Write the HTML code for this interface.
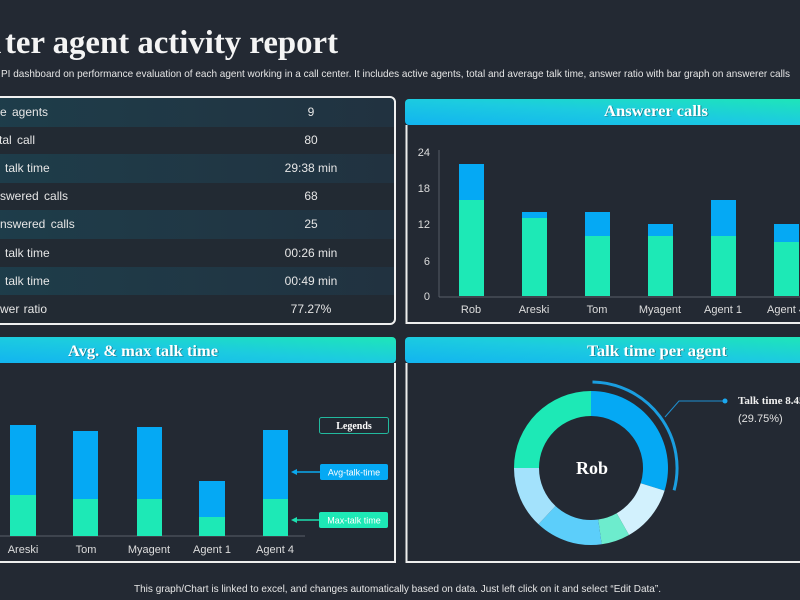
<!DOCTYPE html>
<html>
<head>
<meta charset="utf-8">
<style>
html,body{margin:0;padding:0;background:#232933;width:800px;height:600px;overflow:hidden;}
svg{display:block;}
text{font-family:"Liberation Sans",Arial,sans-serif;}
.serif{font-family:"Liberation Serif",serif;font-weight:bold;}
</style>
</head>
<body>
<svg width="800" height="600" viewBox="0 0 800 600" xmlns="http://www.w3.org/2000/svg">
<defs>
  <linearGradient id="hg" x1="0" y1="1" x2="1" y2="0">
    <stop offset="0" stop-color="#12b4f0"/>
    <stop offset="0.5" stop-color="#1ccbe0"/>
    <stop offset="1" stop-color="#1ee6b8"/>
  </linearGradient>
  <linearGradient id="rowg" x1="0" y1="0" x2="1" y2="0">
    <stop offset="0" stop-color="#1e3d4a"/>
    <stop offset="1" stop-color="#213240"/>
  </linearGradient>
</defs>

<rect x="0" y="0" width="800" height="600" fill="#232933"/>

<!-- Title -->
<text class="serif" x="-17" y="53" font-size="33" fill="#f4f4f4">n</text>
<text class="serif" x="5" y="53" font-size="33" fill="#f4f4f4" textLength="333" lengthAdjust="spacingAndGlyphs">ter agent activity report</text>
<text x="1" y="77" font-size="10.5" fill="#e6e6e6" textLength="789" lengthAdjust="spacingAndGlyphs">PI dashboard on performance evaluation of each agent working in a call center. It includes active agents, total and average talk time, answer ratio with bar graph on answerer calls</text>

<!-- KPI table -->
<rect x="-10" y="97" width="405" height="227" rx="5" fill="#222a33"/>
<rect x="-10" y="98" width="404" height="29" fill="url(#rowg)"/>
<rect x="-10" y="154" width="404" height="29" fill="url(#rowg)"/>
<rect x="-10" y="210" width="404" height="29" fill="url(#rowg)"/>
<rect x="-10" y="267" width="404" height="28" fill="url(#rowg)"/>
<rect x="-10" y="97" width="405" height="227" rx="5" fill="none" stroke="#f0f0f0" stroke-width="2"/>

<g font-size="12" fill="#e6e6e6">
  <text x="0" y="116" word-spacing="2">e agents</text>
  <text x="-1" y="144" word-spacing="2">tal call</text>
  <text x="5" y="172">talk time</text>
  <text x="0" y="200" word-spacing="2">swered calls</text>
  <text x="0" y="228" word-spacing="2">nswered calls</text>
  <text x="5" y="257">talk time</text>
  <text x="5" y="285">talk time</text>
  <text x="0" y="313" word-spacing="1">wer ratio</text>
</g>
<g font-size="12" fill="#e6e6e6" text-anchor="middle">
  <text x="311" y="116">9</text>
  <text x="311" y="144">80</text>
  <text x="311" y="172">29:38 min</text>
  <text x="311" y="200">68</text>
  <text x="311" y="228">25</text>
  <text x="311" y="257">00:26 min</text>
  <text x="311" y="285">00:49 min</text>
  <text x="311" y="313">77.27%</text>
</g>

<!-- Answerer calls panel -->
<rect x="405" y="99" width="405" height="26" rx="4" fill="url(#hg)"/>
<path d="M406.5 125 V323 H810" fill="none" stroke="#eeeeee" stroke-width="2"/>
<text class="serif" x="657" y="116.5" font-size="16" fill="#1a3a44" text-anchor="middle" opacity="0.5" textLength="104" lengthAdjust="spacingAndGlyphs">Answerer calls</text>
<text class="serif" x="656" y="116" font-size="16" fill="#ffffff" text-anchor="middle" textLength="104" lengthAdjust="spacingAndGlyphs">Answerer calls</text>

<line x1="439" y1="150" x2="439" y2="297" stroke="#555c66" stroke-width="1"/>
<line x1="439" y1="297" x2="800" y2="297" stroke="#5a606a" stroke-width="1"/>
<g font-size="11" fill="#dddddd" text-anchor="end">
  <text x="430" y="156">24</text>
  <text x="430" y="192">18</text>
  <text x="430" y="228">12</text>
  <text x="430" y="265">6</text>
  <text x="430" y="300">0</text>
</g>
<g>
  <rect x="459" y="164" width="25" height="36" fill="#05a9f4"/>
  <rect x="459" y="200" width="25" height="96" fill="#1de9b6"/>
  <rect x="522" y="212" width="25" height="6" fill="#05a9f4"/>
  <rect x="522" y="218" width="25" height="78" fill="#1de9b6"/>
  <rect x="585" y="212" width="25" height="24" fill="#05a9f4"/>
  <rect x="585" y="236" width="25" height="60" fill="#1de9b6"/>
  <rect x="648" y="224" width="25" height="12" fill="#05a9f4"/>
  <rect x="648" y="236" width="25" height="60" fill="#1de9b6"/>
  <rect x="711" y="200" width="25" height="36" fill="#05a9f4"/>
  <rect x="711" y="236" width="25" height="60" fill="#1de9b6"/>
  <rect x="774" y="224" width="25" height="18" fill="#05a9f4"/>
  <rect x="774" y="242" width="25" height="54" fill="#1de9b6"/>
</g>
<g font-size="11" fill="#dddddd" text-anchor="middle">
  <text x="471" y="313">Rob</text>
  <text x="534" y="313">Areski</text>
  <text x="597" y="313">Tom</text>
  <text x="660" y="313">Myagent</text>
  <text x="723" y="313">Agent 1</text>
  <text x="786" y="313">Agent 4</text>
</g>

<!-- Avg & max talk time panel -->
<rect x="-10" y="337" width="406" height="26" rx="4" fill="url(#hg)"/>
<path d="M-5 562 H395 V363" fill="none" stroke="#eeeeee" stroke-width="2"/>
<text class="serif" x="144" y="356.5" font-size="16" fill="#1a3a44" text-anchor="middle" opacity="0.5" textLength="150" lengthAdjust="spacingAndGlyphs">Avg. &amp; max talk time</text>
<text class="serif" x="143" y="356" font-size="16" fill="#ffffff" text-anchor="middle" textLength="150" lengthAdjust="spacingAndGlyphs">Avg. &amp; max talk time</text>

<line x1="0" y1="536" x2="305" y2="536" stroke="#5a606a" stroke-width="1"/>
<g>
  <rect x="10" y="425" width="26" height="70" fill="#05a9f4"/>
  <rect x="10" y="495" width="26" height="41" fill="#1de9b6"/>
  <rect x="73" y="431" width="25" height="68" fill="#05a9f4"/>
  <rect x="73" y="499" width="25" height="37" fill="#1de9b6"/>
  <rect x="137" y="427" width="25" height="72" fill="#05a9f4"/>
  <rect x="137" y="499" width="25" height="37" fill="#1de9b6"/>
  <rect x="199" y="481" width="26" height="36" fill="#05a9f4"/>
  <rect x="199" y="517" width="26" height="19" fill="#1de9b6"/>
  <rect x="263" y="430" width="25" height="69" fill="#05a9f4"/>
  <rect x="263" y="499" width="25" height="37" fill="#1de9b6"/>
</g>
<g font-size="11" fill="#dddddd" text-anchor="middle">
  <text x="23" y="553">Areski</text>
  <text x="86" y="553">Tom</text>
  <text x="149" y="553">Myagent</text>
  <text x="212" y="553">Agent 1</text>
  <text x="275" y="553">Agent 4</text>
</g>

<!-- Legend -->
<rect x="319.5" y="417.5" width="69" height="16" rx="2" fill="none" stroke="#22b99e" stroke-width="1"/>
<text class="serif" x="354" y="429" font-size="10" fill="#ffffff" text-anchor="middle">Legends</text>
<rect x="320" y="464" width="68" height="16" rx="2" fill="#05a9f4"/>
<text x="354" y="475.5" font-size="9" fill="#ffffff" text-anchor="middle">Avg-talk-time</text>
<line x1="296" y1="472" x2="320" y2="472" stroke="#0aa9f0" stroke-width="1.5"/>
<polygon points="291,472 297,469 297,475" fill="#0aa9f0"/>
<rect x="319" y="512" width="69" height="16" rx="2" fill="#1de9b6"/>
<text x="354" y="523.5" font-size="9" fill="#ffffff" text-anchor="middle">Max-talk time</text>
<line x1="296" y1="520" x2="319" y2="520" stroke="#1de0b0" stroke-width="1.5"/>
<polygon points="291,520 297,517 297,523" fill="#1de0b0"/>

<!-- Talk time per agent panel -->
<rect x="405" y="337" width="405" height="26" rx="4" fill="url(#hg)"/>
<path d="M406.5 363 V562 H810" fill="none" stroke="#eeeeee" stroke-width="2"/>
<text class="serif" x="658" y="356.5" font-size="16" fill="#1a3a44" text-anchor="middle" opacity="0.5" textLength="140" lengthAdjust="spacingAndGlyphs">Talk time per agent</text>
<text class="serif" x="657" y="356" font-size="16" fill="#ffffff" text-anchor="middle" textLength="140" lengthAdjust="spacingAndGlyphs">Talk time per agent</text>

<!-- donut -->
<path d="M591,391 A77,77 0 0 1 664.6,490.6 L640.7,483.3 A52,52 0 0 0 591,416 Z" fill="#05a9f4"/>
<path d="M664.6,490.6 A77,77 0 0 1 629.0,535.0 L616.7,513.2 A52,52 0 0 0 640.7,483.3 Z" fill="#d2f1fd"/>
<path d="M629.0,535.0 A77,77 0 0 1 601.7,544.3 L598.2,519.5 A52,52 0 0 0 616.7,513.2 Z" fill="#6deccd"/>
<path d="M601.7,544.3 A77,77 0 0 1 538.5,524.3 L555.5,506.0 A52,52 0 0 0 598.2,519.5 Z" fill="#5ccefa"/>
<path d="M538.5,524.3 A77,77 0 0 1 514,468 L539,468 A52,52 0 0 0 555.5,506.0 Z" fill="#a3e2fc"/>
<path d="M514,468 A77,77 0 0 1 591,391 L591,416 A52,52 0 0 0 539,468 Z" fill="#1de9b6"/>
<path d="M592.5,382 A86,86 0 0 1 674.1,490.3" fill="none" stroke="#1a9ee0" stroke-width="3"/>
<text class="serif" x="592" y="474" font-size="18" fill="#ffffff" text-anchor="middle">Rob</text>

<polyline points="665,417 679,401 725,401" fill="none" stroke="#1e8fd0" stroke-width="1"/>
<circle cx="725" cy="401" r="2.5" fill="#1aa8f0"/>
<text class="serif" x="738" y="404" font-size="11" fill="#f0f0f0">Talk time 8.45 min</text>
<text x="738" y="422" font-size="11" fill="#e0e0e0">(29.75%)</text>

<!-- Footer -->
<text x="134" y="592" font-size="10.5" fill="#e6e6e6" textLength="527" lengthAdjust="spacingAndGlyphs">This graph/Chart is linked to excel, and changes automatically based on data. Just left click on it and select “Edit Data”.</text>
</svg>
</body>
</html>
